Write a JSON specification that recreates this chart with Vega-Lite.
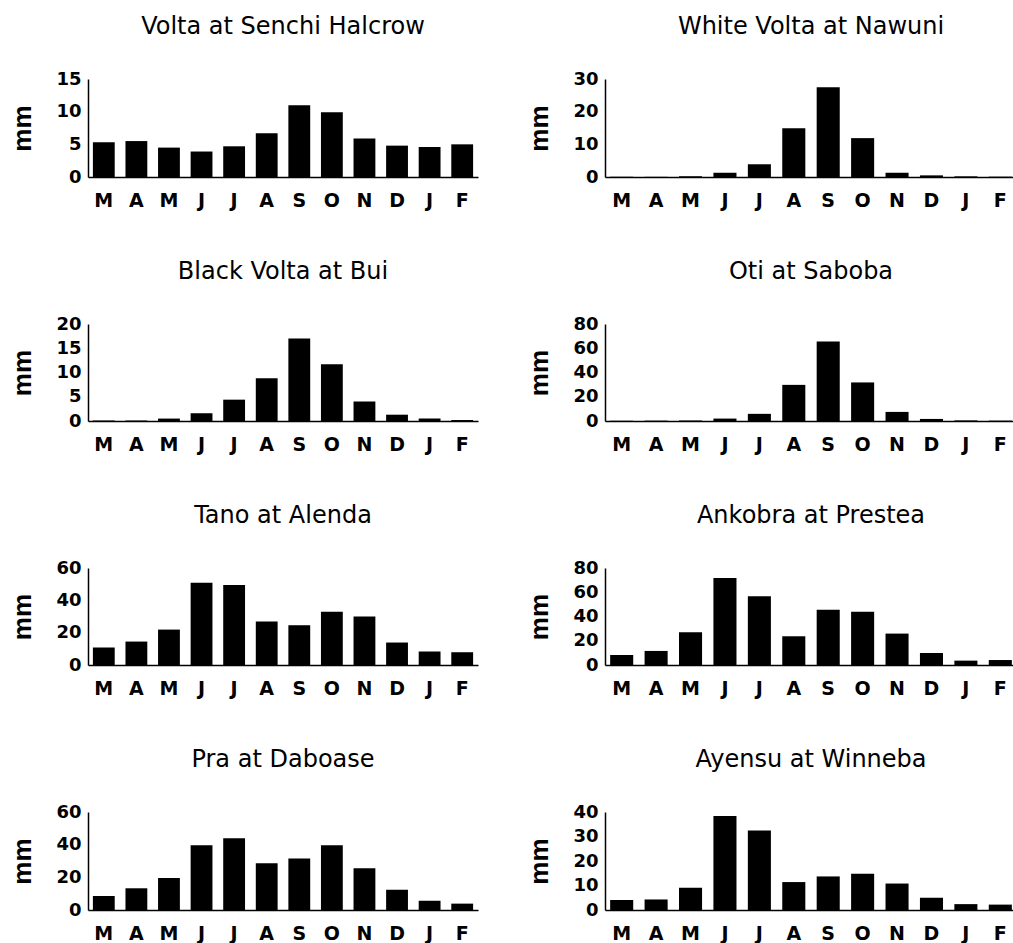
{
  "$schema": "https://vega.github.io/schema/vega-lite/v6.json",
  "padding": {"left": 9, "top": 15, "right": 0, "bottom": 0},
  "background": "white",
  "config": {
    "font": "DejaVu Sans",
    "view": {"stroke": null},
    "title": {"font": "DejaVu Sans", "fontSize": 24, "fontWeight": "normal", "color": "black", "offset": 31, "anchor": "middle", "frame": "group"},
    "axis": {"domainColor": "black", "domainWidth": 1.5, "ticks": false, "grid": false, "labelColor": "black", "labelFont": "DejaVu Sans", "labelFontWeight": "bold", "titleColor": "black"},
    "axisX": {"labelAngle": 0, "labelFontSize": 19, "labelPadding": 14, "title": null},
    "axisY": {"labelFontSize": 18, "labelPadding": 7, "titleFont": "Liberation Sans", "titleFontSize": 26, "titleFontWeight": "bold", "titlePadding": 20},
    "bar": {"color": "black"},
    "concat": {"spacing": 48}
  },
  "datasets": {
    "flow": [
      {"station": "Volta at Senchi Halcrow", "month": "Mar", "mm": 5.3},
      {"station": "Volta at Senchi Halcrow", "month": "Apr", "mm": 5.5},
      {"station": "Volta at Senchi Halcrow", "month": "May", "mm": 4.5},
      {"station": "Volta at Senchi Halcrow", "month": "Jun", "mm": 3.9},
      {"station": "Volta at Senchi Halcrow", "month": "Jul", "mm": 4.7},
      {"station": "Volta at Senchi Halcrow", "month": "Aug", "mm": 6.7},
      {"station": "Volta at Senchi Halcrow", "month": "Sep", "mm": 11.0},
      {"station": "Volta at Senchi Halcrow", "month": "Oct", "mm": 9.9},
      {"station": "Volta at Senchi Halcrow", "month": "Nov", "mm": 5.9},
      {"station": "Volta at Senchi Halcrow", "month": "Dec", "mm": 4.8},
      {"station": "Volta at Senchi Halcrow", "month": "Jan", "mm": 4.6},
      {"station": "Volta at Senchi Halcrow", "month": "Feb", "mm": 5.0},
      {"station": "White Volta at Nawuni", "month": "Mar", "mm": 0.05},
      {"station": "White Volta at Nawuni", "month": "Apr", "mm": 0.05},
      {"station": "White Volta at Nawuni", "month": "May", "mm": 0.2},
      {"station": "White Volta at Nawuni", "month": "Jun", "mm": 1.3},
      {"station": "White Volta at Nawuni", "month": "Jul", "mm": 3.9},
      {"station": "White Volta at Nawuni", "month": "Aug", "mm": 14.9},
      {"station": "White Volta at Nawuni", "month": "Sep", "mm": 27.5},
      {"station": "White Volta at Nawuni", "month": "Oct", "mm": 11.9},
      {"station": "White Volta at Nawuni", "month": "Nov", "mm": 1.3},
      {"station": "White Volta at Nawuni", "month": "Dec", "mm": 0.5},
      {"station": "White Volta at Nawuni", "month": "Jan", "mm": 0.2},
      {"station": "White Volta at Nawuni", "month": "Feb", "mm": 0.1},
      {"station": "Black Volta at Bui", "month": "Mar", "mm": 0.1},
      {"station": "Black Volta at Bui", "month": "Apr", "mm": 0.1},
      {"station": "Black Volta at Bui", "month": "May", "mm": 0.5},
      {"station": "Black Volta at Bui", "month": "Jun", "mm": 1.6},
      {"station": "Black Volta at Bui", "month": "Jul", "mm": 4.4},
      {"station": "Black Volta at Bui", "month": "Aug", "mm": 8.8},
      {"station": "Black Volta at Bui", "month": "Sep", "mm": 17.0},
      {"station": "Black Volta at Bui", "month": "Oct", "mm": 11.7},
      {"station": "Black Volta at Bui", "month": "Nov", "mm": 4.0},
      {"station": "Black Volta at Bui", "month": "Dec", "mm": 1.3},
      {"station": "Black Volta at Bui", "month": "Jan", "mm": 0.5},
      {"station": "Black Volta at Bui", "month": "Feb", "mm": 0.2},
      {"station": "Oti at Saboba", "month": "Mar", "mm": 0.3},
      {"station": "Oti at Saboba", "month": "Apr", "mm": 0.3},
      {"station": "Oti at Saboba", "month": "May", "mm": 0.5},
      {"station": "Oti at Saboba", "month": "Jun", "mm": 2.0},
      {"station": "Oti at Saboba", "month": "Jul", "mm": 5.9},
      {"station": "Oti at Saboba", "month": "Aug", "mm": 29.8},
      {"station": "Oti at Saboba", "month": "Sep", "mm": 65.5},
      {"station": "Oti at Saboba", "month": "Oct", "mm": 31.8},
      {"station": "Oti at Saboba", "month": "Nov", "mm": 7.5},
      {"station": "Oti at Saboba", "month": "Dec", "mm": 1.7},
      {"station": "Oti at Saboba", "month": "Jan", "mm": 0.5},
      {"station": "Oti at Saboba", "month": "Feb", "mm": 0.3},
      {"station": "Tano at Alenda", "month": "Mar", "mm": 10.8},
      {"station": "Tano at Alenda", "month": "Apr", "mm": 14.5},
      {"station": "Tano at Alenda", "month": "May", "mm": 21.9},
      {"station": "Tano at Alenda", "month": "Jun", "mm": 50.9},
      {"station": "Tano at Alenda", "month": "Jul", "mm": 49.5},
      {"station": "Tano at Alenda", "month": "Aug", "mm": 26.9},
      {"station": "Tano at Alenda", "month": "Sep", "mm": 24.6},
      {"station": "Tano at Alenda", "month": "Oct", "mm": 32.9},
      {"station": "Tano at Alenda", "month": "Nov", "mm": 30.0},
      {"station": "Tano at Alenda", "month": "Dec", "mm": 13.9},
      {"station": "Tano at Alenda", "month": "Jan", "mm": 8.3},
      {"station": "Tano at Alenda", "month": "Feb", "mm": 7.9},
      {"station": "Ankobra at Prestea", "month": "Mar", "mm": 8.3},
      {"station": "Ankobra at Prestea", "month": "Apr", "mm": 11.6},
      {"station": "Ankobra at Prestea", "month": "May", "mm": 27.0},
      {"station": "Ankobra at Prestea", "month": "Jun", "mm": 71.7},
      {"station": "Ankobra at Prestea", "month": "Jul", "mm": 56.6},
      {"station": "Ankobra at Prestea", "month": "Aug", "mm": 23.7},
      {"station": "Ankobra at Prestea", "month": "Sep", "mm": 45.5},
      {"station": "Ankobra at Prestea", "month": "Oct", "mm": 43.9},
      {"station": "Ankobra at Prestea", "month": "Nov", "mm": 25.9},
      {"station": "Ankobra at Prestea", "month": "Dec", "mm": 9.9},
      {"station": "Ankobra at Prestea", "month": "Jan", "mm": 3.6},
      {"station": "Ankobra at Prestea", "month": "Feb", "mm": 4.1},
      {"station": "Pra at Daboase", "month": "Mar", "mm": 8.6},
      {"station": "Pra at Daboase", "month": "Apr", "mm": 13.3},
      {"station": "Pra at Daboase", "month": "May", "mm": 19.6},
      {"station": "Pra at Daboase", "month": "Jun", "mm": 39.6},
      {"station": "Pra at Daboase", "month": "Jul", "mm": 43.9},
      {"station": "Pra at Daboase", "month": "Aug", "mm": 28.6},
      {"station": "Pra at Daboase", "month": "Sep", "mm": 31.6},
      {"station": "Pra at Daboase", "month": "Oct", "mm": 39.6},
      {"station": "Pra at Daboase", "month": "Nov", "mm": 25.5},
      {"station": "Pra at Daboase", "month": "Dec", "mm": 12.4},
      {"station": "Pra at Daboase", "month": "Jan", "mm": 5.7},
      {"station": "Pra at Daboase", "month": "Feb", "mm": 3.9},
      {"station": "Ayensu at Winneba", "month": "Mar", "mm": 4.1},
      {"station": "Ayensu at Winneba", "month": "Apr", "mm": 4.3},
      {"station": "Ayensu at Winneba", "month": "May", "mm": 9.1},
      {"station": "Ayensu at Winneba", "month": "Jun", "mm": 38.4},
      {"station": "Ayensu at Winneba", "month": "Jul", "mm": 32.4},
      {"station": "Ayensu at Winneba", "month": "Aug", "mm": 11.4},
      {"station": "Ayensu at Winneba", "month": "Sep", "mm": 13.7},
      {"station": "Ayensu at Winneba", "month": "Oct", "mm": 14.8},
      {"station": "Ayensu at Winneba", "month": "Nov", "mm": 10.8},
      {"station": "Ayensu at Winneba", "month": "Dec", "mm": 5.0},
      {"station": "Ayensu at Winneba", "month": "Jan", "mm": 2.4},
      {"station": "Ayensu at Winneba", "month": "Feb", "mm": 2.2}
    ]
  },
  "spacing": 50,
  "vconcat": [
    {"hconcat": [
      {"title": "Volta at Senchi Halcrow", "width": 390, "height": 98, "data": {"name": "flow"},
       "transform": [{"filter": "datum.station === 'Volta at Senchi Halcrow'"}],
       "mark": "bar",
       "encoding": {
         "x": {"field": "month", "type": "nominal", "sort": ["Mar","Apr","May","Jun","Jul","Aug","Sep","Oct","Nov","Dec","Jan","Feb"], "scale": {"paddingInner": 0.33, "paddingOuter": 0.15}, "axis": {"labelExpr": "slice(datum.value, 0, 1)"}},
         "y": {"field": "mm", "type": "quantitative", "scale": {"domain": [0, 15], "nice": false}, "axis": {"values": [0, 5, 10, 15], "title": "mm"}}
       }},
      {"title": "White Volta at Nawuni", "width": 412, "height": 98, "data": {"name": "flow"},
       "transform": [{"filter": "datum.station === 'White Volta at Nawuni'"}],
       "mark": "bar",
       "encoding": {
         "x": {"field": "month", "type": "nominal", "sort": ["Mar","Apr","May","Jun","Jul","Aug","Sep","Oct","Nov","Dec","Jan","Feb"], "scale": {"paddingInner": 0.33, "paddingOuter": 0.15}, "axis": {"labelExpr": "slice(datum.value, 0, 1)"}},
         "y": {"field": "mm", "type": "quantitative", "scale": {"domain": [0, 30], "nice": false}, "axis": {"values": [0, 10, 20, 30], "title": "mm"}}
       }}
    ]},
    {"hconcat": [
      {"title": "Black Volta at Bui", "width": 390, "height": 97, "data": {"name": "flow"},
       "transform": [{"filter": "datum.station === 'Black Volta at Bui'"}],
       "mark": "bar",
       "encoding": {
         "x": {"field": "month", "type": "nominal", "sort": ["Mar","Apr","May","Jun","Jul","Aug","Sep","Oct","Nov","Dec","Jan","Feb"], "scale": {"paddingInner": 0.33, "paddingOuter": 0.15}, "axis": {"labelExpr": "slice(datum.value, 0, 1)"}},
         "y": {"field": "mm", "type": "quantitative", "scale": {"domain": [0, 20], "nice": false}, "axis": {"values": [0, 5, 10, 15, 20], "title": "mm"}}
       }},
      {"title": "Oti at Saboba", "width": 412, "height": 97, "data": {"name": "flow"},
       "transform": [{"filter": "datum.station === 'Oti at Saboba'"}],
       "mark": "bar",
       "encoding": {
         "x": {"field": "month", "type": "nominal", "sort": ["Mar","Apr","May","Jun","Jul","Aug","Sep","Oct","Nov","Dec","Jan","Feb"], "scale": {"paddingInner": 0.33, "paddingOuter": 0.15}, "axis": {"labelExpr": "slice(datum.value, 0, 1)"}},
         "y": {"field": "mm", "type": "quantitative", "scale": {"domain": [0, 80], "nice": false}, "axis": {"values": [0, 20, 40, 60, 80], "title": "mm"}}
       }}
    ]},
    {"hconcat": [
      {"title": "Tano at Alenda", "width": 390, "height": 97, "data": {"name": "flow"},
       "transform": [{"filter": "datum.station === 'Tano at Alenda'"}],
       "mark": "bar",
       "encoding": {
         "x": {"field": "month", "type": "nominal", "sort": ["Mar","Apr","May","Jun","Jul","Aug","Sep","Oct","Nov","Dec","Jan","Feb"], "scale": {"paddingInner": 0.33, "paddingOuter": 0.15}, "axis": {"labelExpr": "slice(datum.value, 0, 1)"}},
         "y": {"field": "mm", "type": "quantitative", "scale": {"domain": [0, 60], "nice": false}, "axis": {"values": [0, 20, 40, 60], "title": "mm"}}
       }},
      {"title": "Ankobra at Prestea", "width": 412, "height": 97, "data": {"name": "flow"},
       "transform": [{"filter": "datum.station === 'Ankobra at Prestea'"}],
       "mark": "bar",
       "encoding": {
         "x": {"field": "month", "type": "nominal", "sort": ["Mar","Apr","May","Jun","Jul","Aug","Sep","Oct","Nov","Dec","Jan","Feb"], "scale": {"paddingInner": 0.33, "paddingOuter": 0.15}, "axis": {"labelExpr": "slice(datum.value, 0, 1)"}},
         "y": {"field": "mm", "type": "quantitative", "scale": {"domain": [0, 80], "nice": false}, "axis": {"values": [0, 20, 40, 60, 80], "title": "mm"}}
       }}
    ]},
    {"hconcat": [
      {"title": "Pra at Daboase", "width": 390, "height": 98, "data": {"name": "flow"},
       "transform": [{"filter": "datum.station === 'Pra at Daboase'"}],
       "mark": "bar",
       "encoding": {
         "x": {"field": "month", "type": "nominal", "sort": ["Mar","Apr","May","Jun","Jul","Aug","Sep","Oct","Nov","Dec","Jan","Feb"], "scale": {"paddingInner": 0.33, "paddingOuter": 0.15}, "axis": {"labelExpr": "slice(datum.value, 0, 1)"}},
         "y": {"field": "mm", "type": "quantitative", "scale": {"domain": [0, 60], "nice": false}, "axis": {"values": [0, 20, 40, 60], "title": "mm"}}
       }},
      {"title": "Ayensu at Winneba", "width": 412, "height": 98, "data": {"name": "flow"},
       "transform": [{"filter": "datum.station === 'Ayensu at Winneba'"}],
       "mark": "bar",
       "encoding": {
         "x": {"field": "month", "type": "nominal", "sort": ["Mar","Apr","May","Jun","Jul","Aug","Sep","Oct","Nov","Dec","Jan","Feb"], "scale": {"paddingInner": 0.33, "paddingOuter": 0.15}, "axis": {"labelExpr": "slice(datum.value, 0, 1)"}},
         "y": {"field": "mm", "type": "quantitative", "scale": {"domain": [0, 40], "nice": false}, "axis": {"values": [0, 10, 20, 30, 40], "title": "mm"}}
       }}
    ]}
  ]
}
